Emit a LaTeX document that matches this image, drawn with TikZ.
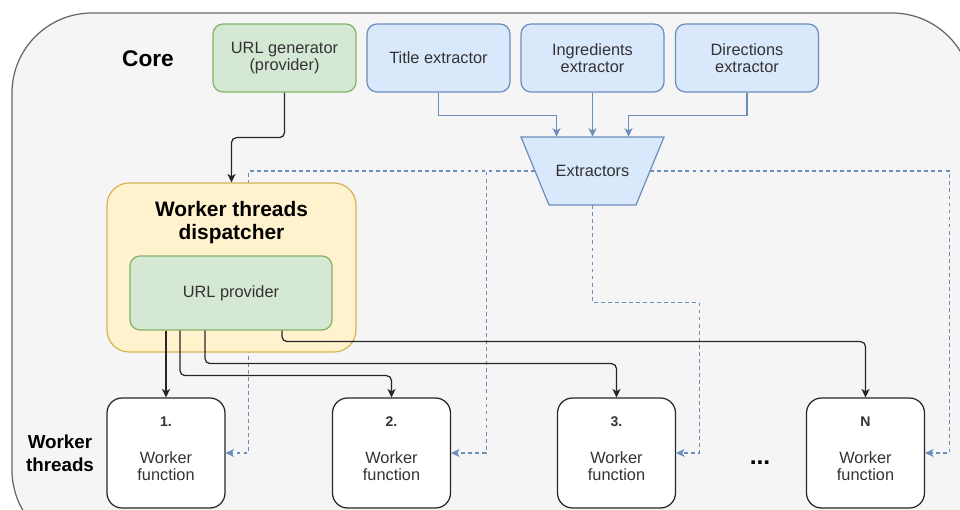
\documentclass[tikz,border=0pt]{standalone}
\usepackage{fontspec}
\setmainfont{Liberation Sans}
\usetikzlibrary{arrows.meta}

\definecolor{coreFill}{HTML}{F5F5F5}
\definecolor{coreLine}{HTML}{666666}
\definecolor{greenFill}{HTML}{D5E8D4}
\definecolor{greenLine}{HTML}{82B366}
\definecolor{blueFill}{HTML}{DAE8FC}
\definecolor{blueLine}{HTML}{6C8EBF}
\definecolor{yellowFill}{HTML}{FFF2CC}
\definecolor{yellowLine}{HTML}{D6B656}
\definecolor{textGray}{HTML}{333333}

\newcommand\tasknum[1]{{\fontsize{8}{9}\selectfont\bfseries #1}}

\begin{document}
\begin{tikzpicture}[x=0.02cm, y=-0.02cm,
	txt/.style={font=\fontsize{9.3}{10}\selectfont, text=textGray, align=center},
	greenbox/.style={txt, draw=greenLine, fill=greenFill, line width=0.7pt, rounded corners=0.2cm},
	bluebox/.style={txt, draw=blueLine, fill=blueFill, line width=0.7pt, rounded corners=0.2cm, minimum width=2.86cm, minimum height=1.36cm},
	worker/.style={txt, draw=black!85, fill=white, line width=0.7pt, rounded corners=0.3cm, minimum width=2.36cm, minimum height=2.2cm},
	link/.style={draw=black!85, line width=0.7pt, rounded corners=0.1cm, -{Stealth[length=4.8pt, width=4.6pt, inset=1.3pt]}},
	feed/.style={draw=blueLine, line width=0.7pt, -{Stealth[length=4.8pt, width=4.6pt, inset=1.3pt]}},
	share/.style={draw=blueLine, line width=0.6pt, dash pattern=on 2.2pt off 1.8pt, -{Stealth[length=4.8pt, width=4.6pt, inset=1.3pt]}},
	heading/.style={text=black, align=center}]
	\useasboundingbox (0,0) rectangle (960,510);
	\clip (0,0) rectangle (960,510);
	\draw[draw=coreLine, fill=coreFill, line width=0.7pt, rounded corners=1.6cm] (12,13) rectangle (972,550);
	\node[heading, font=\fontsize{12.9}{14}\selectfont\bfseries] (core) at (148,59) {Core};
	\node[heading, font=\fontsize{10.7}{12.9}\selectfont\bfseries] (threads) at (60,453) {Worker\\threads};

	\node[greenbox, minimum width=2.86cm, minimum height=1.36cm] (gen) at (284.5,58) {URL generator\\(provider)};
	\node[bluebox] (title) at (438.5,58) {Title extractor};
	\node[bluebox] (ingr) at (592.5,58) {Ingredients\\extractor};
	\node[bluebox] (dirs) at (747,58) {Directions\\extractor};
	\filldraw[draw=blueLine, fill=blueFill, line width=0.7pt] (521,137) -- (664,137) -- (636,205) -- (549,205) -- cycle;
	\node[txt, minimum width=2.86cm, minimum height=1.36cm] (extr) at (592.5,171) {Extractors};
	\coordinate (inA) at ([xshift=-0.72cm]extr.north);
	\coordinate (inC) at ([xshift=0.72cm]extr.north);

	\node[worker] (w1) at (166,453) {\tasknum{1.}\\[11pt]Worker\\function\rule[-5pt]{0pt}{5pt}};
	\node[worker] (w2) at (391.5,453) {\tasknum{2.}\\[11pt]Worker\\function\rule[-5pt]{0pt}{5pt}};
	\node[worker] (w3) at (616.5,453) {\tasknum{3.}\\[11pt]Worker\\function\rule[-5pt]{0pt}{5pt}};
	\node[worker] (wN) at (865.5,453) {\tasknum{N}\\[11pt]Worker\\function\rule[-5pt]{0pt}{5pt}};
	\node[heading, font=\fontsize{14}{16}\selectfont\bfseries] (dots) at (760,463) {...};

	\draw[share] ([xshift=0.28cm]extr.west) -| ([xshift=0.46cm]w1.east) -- (w1.east);
	\draw[share] ([xshift=0.28cm]extr.west) -| ([xshift=0.7cm]w2.east) -- (w2.east);
	\draw[share] (extr.south) -- ++(0,97) -| ([xshift=0.46cm]w3.east) -- (w3.east);
	\draw[share] ([xshift=-0.28cm]extr.east) -| ([xshift=0.48cm]wN.east) -- (wN.east);

	\node[draw=yellowLine, fill=yellowFill, line width=0.7pt, rounded corners=0.44cm, minimum width=4.98cm, minimum height=3.38cm] (disp) at (231.5,267.5) {};
	\node[heading, font=\fontsize{11.9}{13}\selectfont\bfseries] (dispname) at (231.5,223) {Worker threads\\dispatcher};
	\node[greenbox, minimum width=4.04cm, minimum height=1.48cm] (prov) at (231,293) {URL provider};

	\draw[feed] (title.south) -- ++(0,23) -| (inA);
	\draw[feed] (ingr.south) -- (extr.north);
	\draw[feed] (dirs.south) -- ++(0,23) -| (inC);
	\draw[link] (gen.south) -- ++(0,45) -| (disp.north);

	\draw[link] (prov.south -| w1.north) -- (w1.north);
	\draw[link] ([xshift=-1.02cm]prov.south) -- ++(0,45) -| (w2.north);
	\draw[link] ([xshift=-0.52cm]prov.south) -- ++(0,33) -| (w3.north);
	\draw[link] ([xshift=1.02cm]prov.south) -- ++(0,11) -| (wN.north);
\end{tikzpicture}
\end{document}
